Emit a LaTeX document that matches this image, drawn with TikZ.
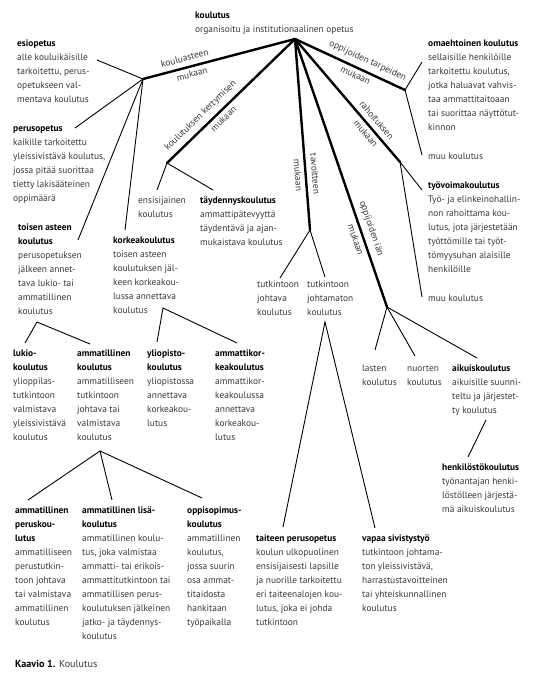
\documentclass[tikz,border=0pt]{standalone}
\usepackage{fontspec}
\setmainfont{PT Sans}
\newcommand\tb[1]{\begin{tabular}[t]{@{}l@{}}#1\end{tabular}}
\newcommand\hd[1]{\textcolor{black}{\textbf{#1}}}
\begin{document}
\begin{tikzpicture}[x=1pt,y=-1pt,
  txt/.style={anchor=base west, inner sep=0pt, font=\fontsize{9.4}{14}\selectfont, text=black!78},
  lbl/.style={inner sep=0pt, font=\fontsize{9.4}{14}\selectfont, text=black!78, sloped},
  thk/.style={line width=2.4pt, line cap=round},
  thn/.style={line width=0.9pt}]
\useasboundingbox[fill=white] (0,0) rectangle (537,680);

% text blocks
\node[txt] (kou) at (195,18) {\tb{\hd{koulutus}\\organisoitu ja institutionaalinen opetus}};
\node[txt] (esi) at (17,46) {\tb{\hd{esiopetus}\\alle kouluikäisille\\tarkoitettu, perus-\\opetukseen val-\\mentava koulutus}};
\node[txt] (per) at (13,131) {\tb{\hd{perusopetus}\\kaikille tarkoitettu\\yleissivistävä koulutus,\\jossa pitää suorittaa\\tietty lakisääteinen\\oppimäärä}};
\node[txt] (toi) at (18,230) {\tb{\hd{toisen asteen}\\\hd{koulutus}\\perusopetuksen\\jälkeen annet-\\tava lukio- tai\\ammatillinen\\koulutus}};
\node[txt] (kor) at (113,243) {\tb{\hd{korkeakoulutus}\\toisen asteen\\koulutuksen jäl-\\keen korkeakou-\\lussa annettava\\koulutus}};
\node[txt] (ens) at (138,203) {\tb{ensisijainen\\koulutus}};
\node[txt] (tay) at (200,203) {\tb{\hd{täydennyskoulutus}\\ammattipätevyyttä\\täydentävä ja ajan-\\mukaistava koulutus}};
\node[txt] (tjo) at (257,287) {\tb{tutkintoon\\johtava\\koulutus}};
\node[txt] (tjm) at (307,287) {\tb{tutkintoon\\johtamaton\\koulutus}};
\node[txt] (oma) at (428,46) {\tb{\hd{omaehtoinen koulutus}\\sellaisille henkilöille\\tarkoitettu koulutus,\\jotka haluavat vahvis-\\taa ammattitaitoaan\\tai suorittaa näyttötut-\\kinnon}};
\node[txt] (muu1) at (428,159) {muu koulutus};
\node[txt] (tyo) at (428,188) {\tb{\hd{työvoimakoulutus}\\Työ- ja elinkeinohallin-\\non rahoittama kou-\\lutus, jota järjestetään\\työttömille tai työt-\\tömyysuhan alaisille\\henkilöille}};
\node[txt] (muu2) at (428,301) {muu koulutus};
\node[txt] (luk) at (13,356) {\tb{\hd{lukio-}\\\hd{koulutus}\\ylioppilas-\\tutkintoon\\valmistava\\yleissivistävä\\koulutus}};
\node[txt] (amm) at (77,356) {\tb{\hd{ammatillinen}\\\hd{koulutus}\\ammatilliseen\\tutkintoon\\johtava tai\\valmistava\\koulutus}};
\node[txt] (yli) at (147,356) {\tb{\hd{yliopisto-}\\\hd{koulutus}\\yliopistossa\\annettava\\korkeakou-\\lutus}};
\node[txt] (amk) at (215,356) {\tb{\hd{ammattikor-}\\\hd{keakoulutus}\\ammattikor-\\keakoulussa\\annettava\\korkeakou-\\lutus}};
\node[txt] (las) at (362,371) {\tb{lasten\\koulutus}};
\node[txt] (nuo) at (407,371) {\tb{nuorten\\koulutus}};
\node[txt] (aik) at (452,371) {\tb{\hd{aikuiskoulutus}\\aikuisille suunni-\\teltu ja järjestet-\\ty koulutus}};
\node[txt] (hen) at (442,470) {\tb{\hd{henkilöstökoulutus}\\työnantajan henki-\\löstölleen järjestä-\\mä aikuiskoulutus}};
\node[txt] (amp) at (15,513) {\tb{\hd{ammatillinen}\\\hd{peruskou-}\\\hd{lutus}\\ammatilliseen\\perustutkin-\\toon johtava\\tai valmistava\\ammatillinen\\koulutus}};
\node[txt] (aml) at (82,513) {\tb{\hd{ammatillinen lisä-}\\\hd{koulutus}\\ammatillinen koulu-\\tus, joka valmistaa\\ammatti- tai erikois-\\ammattitutkintoon tai\\ammatillisen perus-\\koulutuksen jälkeinen\\jatko- ja täydennys-\\koulutus}};
\node[txt] (opp) at (187,513) {\tb{\hd{oppisopimus-}\\\hd{koulutus}\\ammatillinen\\koulutus,\\jossa suurin\\osa ammat-\\titaidosta\\hankitaan\\työpaikalla}};
\node[txt] (tai) at (256,541) {\tb{\hd{taiteen perusopetus}\\koulun ulkopuolinen\\ensisijaisesti lapsille\\ja nuorille tarkoitettu\\eri taiteenalojen kou-\\lutus, joka ei johda\\tutkintoon}};
\node[txt] (vap) at (362,541) {\tb{\hd{vapaa sivistystyö}\\tutkintoon johtama-\\ton yleissivistävä,\\harrastustavoitteinen\\tai yhteiskunnallinen\\koulutus}};
\node[txt, font=\fontsize{10.2}{14}\selectfont] (cap) at (15,667) {\hd{Kaavio 1.} Koulutus};

% hubs
\coordinate (H) at (295,39);
\coordinate (A1) at (143,79);
\coordinate (A2) at (167,163);
\coordinate (A3) at (310,230);
\coordinate (A4) at (387,307);
\coordinate (A5) at (400,162);
\coordinate (A6) at (405,90);
\coordinate (T) at (37,322);
\coordinate (K) at (163,308);
\coordinate (M) at (100,451);
\coordinate (J) at (325,322);
% free ends
\coordinate (eEsi) at (97,60);
\coordinate (ePer) at (75,128);
\coordinate (eToi) at (78,240);
\coordinate (eKor) at (125,230);
\coordinate (eEns) at (157,190);
\coordinate (eTay) at (213,190);
\coordinate (eTjo) at (280,278);
\coordinate (eTjm) at (325,277);
\coordinate (eLas) at (375,350);
\coordinate (eNuo) at (415,356);
\coordinate (eAik) at (477,358);
\coordinate (eTyo) at (422,190);
\coordinate (eMuu2) at (422,297);
\coordinate (eOma) at (422,62);
\coordinate (eMuu1) at (422,155);
\coordinate (eLuk) at (25,343);
\coordinate (eAmm) at (90,344);
\coordinate (eYli) at (157,342);
\coordinate (eAmk) at (237,343);
\coordinate (eAmp) at (28,500);
\coordinate (eAml) at (112,500);
\coordinate (eOpp) at (202,498);
\coordinate (eTai) at (283,527);
\coordinate (eVap) at (375,528);
\coordinate (sAik) at (486,420);
\coordinate (eHen) at (468,457);

% thick branches with labels
\draw[thk] (H) -- (A1) node[lbl, pos=0.71, above=5pt] {kouluasteen} node[lbl, pos=0.69, below=3pt] {mukaan};
\draw[thk] (H) -- (A2) node[lbl, pos=0.68, above=5pt] {koulutuksen kertymisen} node[lbl, pos=0.60, below=3pt] {mukaan};
\draw[thk] (H) -- (A3) node[lbl, pos=0.71, above=5pt] {tavoitteen} node[lbl, pos=0.71, below=3pt] {mukaan};
\draw[thk] (H) -- (A4) node[lbl, pos=0.72, above=5pt] {oppijoiden iän} node[lbl, pos=0.74, below=3pt] {mukaan};
\draw[thk] (H) -- (A5) node[lbl, pos=0.71, above=5pt] {rahoituksen} node[lbl, pos=0.73, below=3pt] {mukaan};
\draw[thk] (H) -- (A6) node[lbl, pos=0.62, above=5pt] {oppijoiden tarpeiden} node[lbl, pos=0.58, below=3pt] {mukaan};

% thin branches
\draw[thn] (eEsi) -- (A1) -- (ePer);
\draw[thn] (A1) -- (eToi);
\draw[thn] (A1) -- (eKor);
\draw[thn] (eEns) -- (A2) -- (eTay);
\draw[thn] (eTjo) -- (A3) -- (eTjm);
\draw[thn] (eLas) -- (A4) -- (eNuo);
\draw[thn] (A4) -- (eAik);
\draw[thn] (eTyo) -- (A5) -- (eMuu2);
\draw[thn] (eOma) -- (A6) -- (eMuu1);
\draw[thn] (eLuk) -- (T) -- (eAmm);
\draw[thn] (eYli) -- (K) -- (eAmk);
\draw[thn] (eAmp) -- (M) -- (eOpp);
\draw[thn] (M) -- (eAml);
\draw[thn] (eTai) -- (J) -- (eVap);
\draw[thn] (sAik) -- (eHen);
\end{tikzpicture}
\end{document}
